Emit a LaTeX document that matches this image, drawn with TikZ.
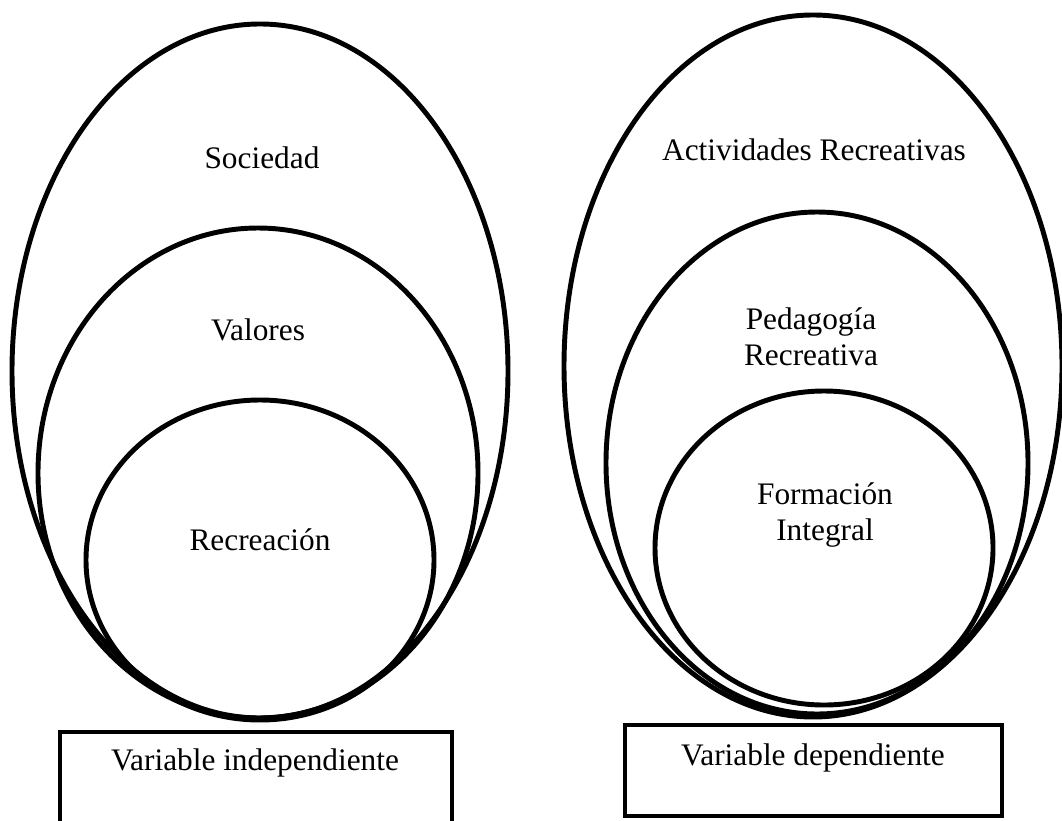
\documentclass[tikz,border=0pt]{standalone}
\usepackage{fontspec}
\setmainfont{Liberation Serif}

\tikzset{
  ring/.style = {line width=3.7pt},
  varbox/.style = {line width=3pt},
  lbl/.style = {font=\fontsize{23.5}{27}\selectfont, align=center, inner sep=0pt}
}

\begin{document}
\begin{tikzpicture}[x = 0.75pt, y = -0.75pt]
\useasboundingbox (0,0) rectangle (1062,820);
% variable independiente
\draw[ring] (260,371) ellipse (248 and 347);
\draw[ring] (258,473) ellipse (220 and 245);
\draw[ring] (260,560) ellipse (174 and 160);
\node[lbl] (sociedad) at (262,158) {Sociedad};
\node[lbl] (valores) at (258,330) {Valores};
\node[lbl] (recreacion) at (260,540) {Recreación};
\draw[varbox] (60,732) rectangle (452,832);
\node[lbl] (vind) at (255,763) {Variable independiente};
% variable dependiente
\draw[ring] (813,366) ellipse (249 and 351);
\draw[ring] (817,463) ellipse (211 and 251);
\draw[ring] (824,548) ellipse (169 and 157);
\node[lbl] (actividades) at (814,150) {Actividades Recreativas};
\node[lbl] (pedagogia) at (811,337) {Pedagogía\\Recreativa};
\node[lbl] (formacion) at (825,515) {Formación\\Integral};
\draw[varbox] (625,725) rectangle (1002,816);
\node[lbl] (vdep) at (813,758) {Variable dependiente};
\end{tikzpicture}
\end{document}
